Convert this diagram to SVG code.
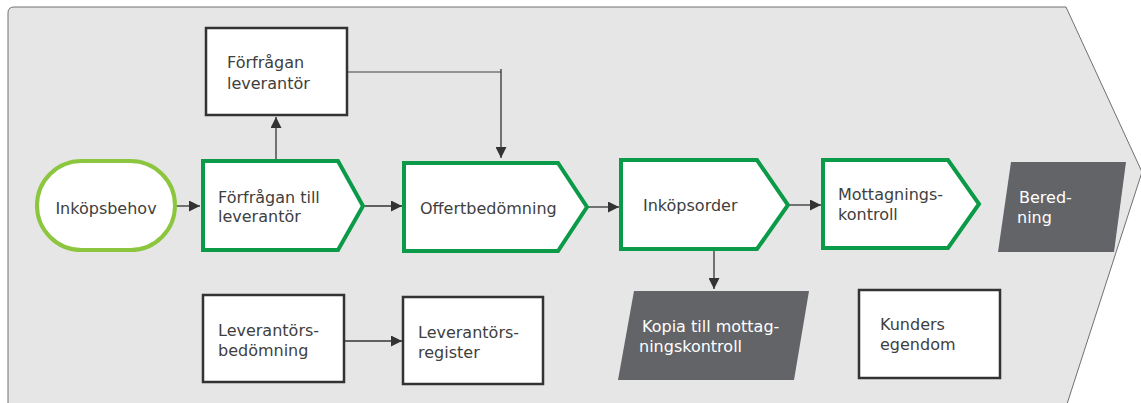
<svg xmlns="http://www.w3.org/2000/svg" width="1141" height="403" viewBox="0 0 1141 403">
<style>
.t{font-family:"DejaVu Sans",sans-serif;font-size:16px;fill:#404040}
.w{font-family:"DejaVu Sans",sans-serif;font-size:16px;fill:#ffffff}
.box{fill:#ffffff;stroke:#333333;stroke-width:2.5}
.proc{fill:#ffffff;stroke:#0a9a48;stroke-width:4}
.doc{fill:#636468}
.c{stroke:#333333;stroke-width:1.3;fill:none}
</style>
<defs>
<marker id="ah" viewBox="0 0 10 10" refX="10" refY="5" markerWidth="11" markerHeight="11" markerUnits="userSpaceOnUse" orient="auto">
<path d="M0,0 L10,5 L0,10 z" fill="#333333"/>
</marker>
</defs>
<path id="bg" d="M8,404 L8,13 Q8,7 14,7 L1066,7 L1142,172 L1067,404 z" fill="#e6e6e6" stroke="#707070" stroke-width="1"/>
<g id="connectors">
<line class="c" x1="175" y1="206" x2="200" y2="206" marker-end="url(#ah)"/>
<line class="c" x1="365" y1="206" x2="402" y2="206" marker-end="url(#ah)"/>
<line class="c" x1="588" y1="207" x2="619" y2="207" marker-end="url(#ah)"/>
<line class="c" x1="789" y1="205" x2="821" y2="205" marker-end="url(#ah)"/>
<line class="c" x1="276" y1="159" x2="276" y2="117" marker-end="url(#ah)"/>
<polyline fill="none" stroke="#777777" stroke-width="1.3" points="347,72 501,72"/>
<line class="c" x1="501" y1="69" x2="501" y2="158" marker-end="url(#ah)"/>
<line class="c" x1="714" y1="251" x2="714" y2="289" marker-end="url(#ah)"/>
<line class="c" x1="344" y1="341" x2="402" y2="341" marker-end="url(#ah)"/>
</g>
<g id="n-forfragan-leverantor">
<rect class="box" x="206" y="28" width="141" height="87"/>
<text class="t" x="227" y="68">Förfrågan</text>
<text class="t" x="227" y="89">leverantör</text>
</g>
<g id="n-inkopsbehov">
<rect x="37" y="161" width="138" height="89" rx="44.5" fill="#ffffff" stroke="#8cc63f" stroke-width="4"/>
<text class="t" x="106" y="214" text-anchor="middle">Inköpsbehov</text>
</g>
<g id="n-forfragan-till">
<path class="proc" d="M203,161 L338,161 L363,206 L338,250 L203,250 z"/>
<text class="t" x="218" y="203">Förfrågan till</text>
<text class="t" x="218" y="222">leverantör</text>
</g>
<g id="n-offertbedomning">
<path class="proc" d="M404,163 L558,163 L587,207 L558,251 L404,251 z"/>
<text class="t" x="420" y="214">Offertbedömning</text>
</g>
<g id="n-inkopsorder">
<path class="proc" d="M621,160 L757,160 L788,205 L757,249 L621,249 z"/>
<text class="t" x="643" y="211">Inköpsorder</text>
</g>
<g id="n-mottagningskontroll">
<path class="proc" d="M823,160 L948,160 L979,204 L948,248 L823,248 z"/>
<text class="t" x="838" y="200">Mottagnings-</text>
<text class="t" x="838" y="220">kontroll</text>
</g>
<g id="n-beredning">
<path class="doc" d="M1011,162 L1126,162 L1114,252 L998,252 z"/>
<text class="w" x="1019" y="203">Bered-</text>
<text class="w" x="1017" y="223">ning</text>
</g>
<g id="n-kopia">
<path class="doc" d="M634,291 L809,291 L794,380 L618,380 z"/>
<text class="w" x="642" y="332">Kopia till mottag-</text>
<text class="w" x="639" y="352">ningskontroll</text>
</g>
<g id="n-kunders-egendom">
<rect class="box" x="859" y="290" width="141" height="88"/>
<text class="t" x="880" y="330">Kunders</text>
<text class="t" x="880" y="350">egendom</text>
</g>
<g id="n-leverantorsbedomning">
<rect class="box" x="203" y="295" width="141" height="87"/>
<text class="t" x="218" y="336">Leverantörs-</text>
<text class="t" x="218" y="356">bedömning</text>
</g>
<g id="n-leverantorsregister">
<rect class="box" x="403" y="297" width="140" height="87"/>
<text class="t" x="418" y="338">Leverantörs-</text>
<text class="t" x="418" y="358">register</text>
</g>
</svg>
